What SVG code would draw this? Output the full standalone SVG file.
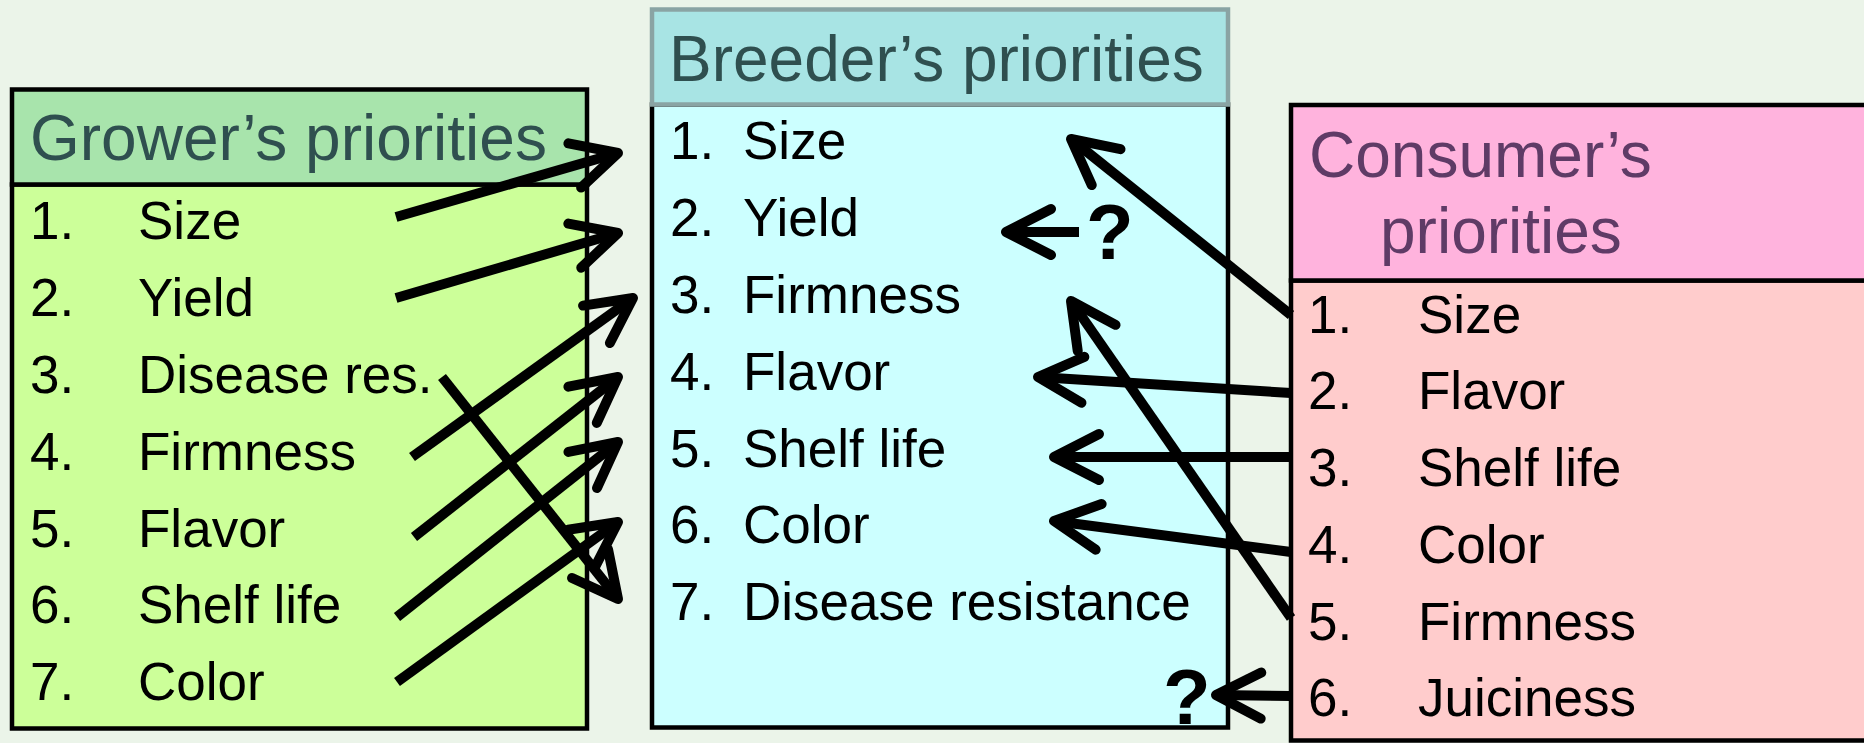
<svg xmlns="http://www.w3.org/2000/svg" width="1864" height="743" viewBox="0 0 1864 743">
<defs>
<marker id="chev" markerUnits="userSpaceOnUse" orient="auto" overflow="visible" markerWidth="60" markerHeight="60" refX="0" refY="0">
<path d="M -45 -23 L 0 0 L -45 23" fill="none" stroke="#000" stroke-width="10" stroke-linecap="round" stroke-linejoin="round"/>
</marker>
<style>
.t{font-family:"Liberation Sans",Arial,sans-serif;font-size:53px;fill:#000}
.h{font-family:"Liberation Sans",Arial,sans-serif;font-size:64px}
.q{font-family:"Liberation Sans",Arial,sans-serif;font-size:78px;font-weight:bold;fill:#000}
.bd{stroke:#000;stroke-width:4.5}
.ar{stroke:#000;stroke-width:10;fill:none;marker-end:url(#chev)}
</style>
</defs>
<rect x="0" y="0" width="1864" height="743" fill="#EBF4E9"/>

<g id="grower">
<rect x="12" y="184.5" width="575" height="544" fill="#CCFF99" class="bd"/>
<rect x="12" y="89.5" width="575" height="95" fill="#A8E4AC" class="bd"/>
<text class="h" x="30" y="160" fill="#2F4F4F">Grower’s priorities</text>
<text class="t" x="30" y="239">1.</text><text class="t" x="138" y="239">Size</text>
<text class="t" x="30" y="316">2.</text><text class="t" x="138" y="316">Yield</text>
<text class="t" x="30" y="393">3.</text><text class="t" x="138" y="393">Disease res.</text>
<text class="t" x="30" y="470">4.</text><text class="t" x="138" y="470">Firmness</text>
<text class="t" x="30" y="547">5.</text><text class="t" x="138" y="547">Flavor</text>
<text class="t" x="30" y="623">6.</text><text class="t" x="138" y="623">Shelf life</text>
<text class="t" x="30" y="700">7.</text><text class="t" x="138" y="700">Color</text>
</g>

<g id="breeder">
<rect x="652" y="104.5" width="576" height="623" fill="#CCFFFF" class="bd"/>
<rect x="652" y="9.5" width="576" height="95" fill="#A8E4E4" stroke="#8AA4A4" stroke-width="4.5"/>
<text class="h" x="669" y="81" fill="#2F4F4F">Breeder’s priorities</text>
<text class="t" x="670" y="159">1.</text><text class="t" x="743" y="159">Size</text>
<text class="t" x="670" y="236">2.</text><text class="t" x="743" y="236">Yield</text>
<text class="t" x="670" y="313">3.</text><text class="t" x="743" y="313">Firmness</text>
<text class="t" x="670" y="390">4.</text><text class="t" x="743" y="390">Flavor</text>
<text class="t" x="670" y="467">5.</text><text class="t" x="743" y="467">Shelf life</text>
<text class="t" x="670" y="543">6.</text><text class="t" x="743" y="543">Color</text>
<text class="t" x="670" y="620">7.</text><text class="t" x="743" y="620">Disease resistance</text>
<text class="q" x="1086" y="259">?</text>
<text class="q" x="1163" y="724">?</text>
</g>

<g id="consumer">
<rect x="1291" y="280.5" width="600" height="460" fill="#FFCCCC" class="bd"/>
<rect x="1291" y="105" width="600" height="175.5" fill="#FFB3DD" class="bd"/>
<text class="h" x="1309" y="177" fill="#5F3B66">Consumer’s</text>
<text class="h" x="1380" y="253" fill="#5F3B66">priorities</text>
<text class="t" x="1308" y="333">1.</text><text class="t" x="1418" y="333">Size</text>
<text class="t" x="1308" y="409">2.</text><text class="t" x="1418" y="409">Flavor</text>
<text class="t" x="1308" y="486">3.</text><text class="t" x="1418" y="486">Shelf life</text>
<text class="t" x="1308" y="563">4.</text><text class="t" x="1418" y="563">Color</text>
<text class="t" x="1308" y="640">5.</text><text class="t" x="1418" y="640">Firmness</text>
<text class="t" x="1308" y="716">6.</text><text class="t" x="1418" y="716">Juiciness</text>
</g>

<g id="connectors">
<line class="ar" x1="396" y1="217" x2="618" y2="153"/>
<line class="ar" x1="396" y1="298" x2="618" y2="233"/>
<line class="ar" x1="442" y1="377" x2="618" y2="599"/>
<line class="ar" x1="412" y1="457" x2="633" y2="298"/>
<line class="ar" x1="414" y1="537" x2="618" y2="377"/>
<line class="ar" x1="397" y1="617" x2="618" y2="442"/>
<line class="ar" x1="397" y1="682" x2="618" y2="522"/>
<line class="ar" x1="1291" y1="315" x2="1071" y2="139"/>
<line class="ar" x1="1079" y1="232" x2="1006" y2="232"/>
<line class="ar" x1="1291" y1="618" x2="1071" y2="301"/>
<line class="ar" x1="1291" y1="393" x2="1038" y2="377"/>
<line class="ar" x1="1291" y1="457" x2="1054" y2="457"/>
<line class="ar" x1="1291" y1="552" x2="1054" y2="521"/>
<line class="ar" x1="1291" y1="696" x2="1216" y2="695"/>
</g>
</svg>
